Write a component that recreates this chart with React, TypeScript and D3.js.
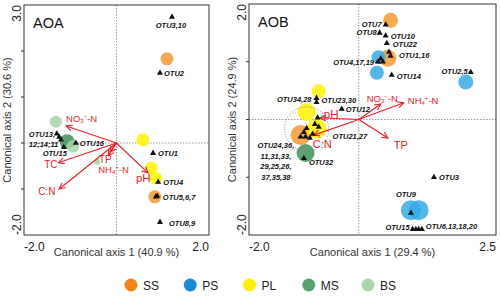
import React from 'react';
import * as d3 from 'd3';

// sample groups and colours
const groups = ['SS', 'PS', 'PL', 'MS', 'BS'];
const legendColor: Record<string, string> = {
  SS: '#f08519', PS: '#1a8ad4', PL: '#fff100', MS: '#5aa36e', BS: '#a8d8aa',
};
const pointColor: Record<string, string> = {
  SS: '#f39a33', PS: '#35aae6', PL: '#fff200', MS: '#418f58', BS: '#a2d5a5',
};

// AOA sites (x, y on canonical axes, w = relative size)
const aoaSites = [
  { g: 'SS', x: 1.09, y: 1.83, w: 42 },
  { g: 'SS', x: 0.83, y: -1.17, w: 42 },
  { g: 'PL', x: 0.57, y: 0.07, w: 42 },
  { g: 'PL', x: 0.75, y: -0.54, w: 40 },
  { g: 'PL', x: 0.85, y: -0.76, w: 40 },
  { g: 'BS', x: -1.31, y: 0.46, w: 36 },
  { g: 'MS', x: -1.07, y: 0.03, w: 56 },
  { g: 'BS', x: -0.94, y: -0.07, w: 40 },
  { g: 'BS', x: -0.42, y: -0.41, w: 9 },
];
const aoaOtus = [
  { name: ['OTU3,10'], pts: [[1.2, 2.74]] },
  { name: ['OTU2'], pts: [[0.94, 1.52]] },
  { name: ['OTU1'], pts: [[0.79, -0.22]] },
  { name: ['OTU4'], pts: [[0.9, -0.85]] },
  { name: ['OTU5,6,7'], pts: [[0.85, -1.17], [0.88, -1.15]] },
  { name: ['OTU8,9'], pts: [[0.94, -1.72]] },
  { name: ['OTU16'], pts: [[-0.88, 0.0]] },
  { name: ['OTU15'], pts: [[-1.14, -0.09]] },
  { name: ['OTU13,', '12;14;11'], pts: [[-1.29, 0.2], [-1.24, 0.13], [-1.2, 0.07]] },
];
const aoaArrows = [
  { name: 'NO3', x: -1.09, y: 0.37 },
  { name: 'TC', x: -1.26, y: -0.43 },
  { name: 'C:N', x: -1.24, y: -1.0 },
  { name: 'TP', x: -0.14, y: -0.2 },
  { name: 'NH4', x: -0.18, y: -0.28 },
  { name: 'pH', x: 0.68, y: -0.65 },
];

// AOB sites
const aobSites = [
  { g: 'SS', x: 0.58, y: 1.72, w: 56 },
  { g: 'SS', x: 0.53, y: 1.06, w: 72 },
  { g: 'PS', x: 0.36, y: 1.08, w: 49 },
  { g: 'PS', x: 0.33, y: 0.81, w: 49 },
  { g: 'PS', x: 1.95, y: 0.65, w: 56 },
  { g: 'PL', x: -0.73, y: 0.49, w: 49 },
  { g: 'PL', x: -0.95, y: 0.13, w: 81 },
  { g: 'SS', x: -1.06, y: -0.27, w: 100 },
  { g: 'PL', x: -0.77, y: -0.16, w: 100 },
  { g: 'MS', x: -0.97, y: -0.58, w: 81 },
  { g: 'PS', x: 0.95, y: -1.57, w: 100 },
  { g: 'PS', x: 1.09, y: -1.57, w: 100 },
];
const aobOtus = [
  { name: ['OTU7'], pts: [[0.49, 1.64]] },
  { name: ['OTU8'], pts: [[0.38, 1.5]] },
  { name: ['OTU10'], pts: [[0.49, 1.45]] },
  { name: ['OTU22'], pts: [[0.51, 1.32]] },
  { name: ['OTU1,16'], pts: [[0.55, 1.17], [0.58, 1.1]] },
  { name: ['OTU4,17,19'], pts: [[0.35, 1.0], [0.44, 1.0], [0.4, 1.05]] },
  { name: ['OTU14'], pts: [[0.6, 0.77]] },
  { name: ['OTU2,5'], pts: [[2.04, 0.82]] },
  { name: ['OTU34,28'], pts: [[-0.77, 0.37]] },
  { name: ['OTU23,30'], pts: [[-0.77, 0.3]] },
  { name: ['OTU12'], pts: [[-0.31, 0.18]] },
  { name: ['OTU21,27'], pts: [[-0.75, 0.03], [-0.73, -0.13]] },
  {
    name: ['OTU24,36,', '11,31,33,', '29,25,26,', '37,35,38'],
    pts: [[-1.0, -0.22], [-0.95, -0.15], [-1.06, -0.3], [-0.97, -0.3], [-0.89, -0.32], [-0.84, -0.25], [-0.8, -0.08]],
  },
  { name: ['OTU32'], pts: [[-1.0, -0.67]] },
  { name: ['OTU3'], pts: [[1.37, -1.0]] },
  { name: ['OTU9'], pts: [[0.95, -1.62]] },
  { name: ['OTU15'], pts: [[0.98, -1.9]] },
  { name: ['OTU6,13,18,20'], pts: [[1.04, -1.9], [1.09, -1.9], [1.15, -1.9]] },
];
const aobArrows = [
  { name: 'pH', x: -0.71, y: 0.03 },
  { name: 'C:N', x: -0.82, y: -0.27 },
  { name: 'NO3', x: 0.4, y: 0.27 },
  { name: 'NH4', x: 0.82, y: 0.29 },
  { name: 'TP', x: 0.53, y: -0.32 },
];

// label placement: [anchor, dx, dy] relative to the first point
const aoaOtuPos: Record<string, [string, number, number]> = {
  'OTU3,10': ['middle', -1, 11], OTU2: ['start', 4, 3], OTU1: ['start', 5, 3],
  OTU4: ['start', 5, 3], 'OTU5,6,7': ['start', 7, 3], 'OTU8,9': ['start', 9, 4],
  OTU16: ['start', 4, 3], OTU15: ['middle', -9, 9], 'OTU13,': ['start', -28, 3],
};
const aobOtuPos: Record<string, [string, number, number]> = {
  OTU7: ['end', -4, 2], OTU8: ['end', -3, 2], OTU10: ['start', 5, 3], OTU22: ['start', 6, 4],
  'OTU1,16': ['start', 10, 6], 'OTU4,17,19': ['end', -4, 3], OTU14: ['start', 5, 4],
  'OTU2,5': ['end', -3, 2], 'OTU34,28': ['end', -5, 4], 'OTU23,30': ['start', 5, 1],
  OTU12: ['start', 4, 3], 'OTU21,27': ['start', 15, 21], 'OTU24,36,': ['middle', -28, 16],
  OTU32: ['start', 5, 7], OTU3: ['start', 5, 3], OTU9: ['middle', -5, -16],
  OTU15: ['end', -3, 1], 'OTU6,13,18,20': ['start', 10, 0],
};
const aoaArrowPos: Record<string, [number, number]> = {
  NO3: [0, -4], TC: [-14, 5], 'C:N': [-21, 6], TP: [-11, 11], NH4: [-10, 17], pH: [-12, 9],
};
const aobArrowPos: Record<string, [number, number]> = {
  pH: [4, 0], 'C:N': [-1, 13], NO3: [-14, -2], NH4: [4, 1], TP: [6, 11],
};

const RED = '#e4232b';
const FONT = 'Liberation Sans, Arial, sans-serif';

const ArrowLabel = ({ name, x, y, small }: { name: string; x: number; y: number; small?: boolean }) => {
  const fs = name === 'pH' ? 11.5 : name === 'NO3' || name === 'NH4' ? 9.5 : small ? 10 : 11;
  if (name === 'NO3' || name === 'NH4') {
    return (
      <text x={x} y={y} fill={RED} fontSize={fs} fontFamily={FONT}>
        {name === 'NO3' ? 'NO' : 'NH'}
        <tspan fontSize={6} dy={1.5}>{name === 'NO3' ? '3' : '4'}</tspan>
        <tspan fontSize={6} dy={-5}>{name === 'NO3' ? '−' : '+'}</tspan>
        <tspan dy={3.5}>-N</tspan>
      </text>
    );
  }
  return (
    <text x={x} y={y} fill={RED} fontSize={fs} fontFamily={FONT}>{name}</text>
  );
};

const Panel = (props: any) => {
  const { title, xDom, yDom, box, sites, otus, arrows, otuPos, arrowPos, xTitle, yTitle, xLabels, yLabels, yTicks, id, halo, small } = props;
  const x = d3.scaleLinear().domain(xDom).range([box[0], box[2]]);
  const y = d3.scaleLinear().domain(yDom).range([box[3], box[1]]);
  const r = d3.scaleSqrt().domain([0, 100]).range([0, 10]);
  const tri = d3.symbol().type(d3.symbolTriangle).size(16)();
  const midY = (box[1] + box[3]) / 2;
  return (
    <g>
      <defs>
        <marker id={id} viewBox="0 0 8 8" refX="7" refY="4" markerWidth="7" markerHeight="7" markerUnits="userSpaceOnUse" orient="auto">
          <path d="M0,0.5 L7,4 L0,7.5" fill="none" stroke={RED} strokeWidth={1.3} />
        </marker>
      </defs>
      <line x1={x(0)} x2={x(0)} y1={box[1]} y2={box[3]} stroke="#999" strokeDasharray="1.5,1.5" />
      <line x1={box[0]} x2={box[2]} y1={y(0)} y2={y(0)} stroke="#999" strokeDasharray="1.5,1.5" />
      {sites.map((s: any, i: number) => (
        <circle key={i} cx={x(s.x)} cy={y(s.y)} r={r(s.w)} fill={pointColor[s.g]} fillOpacity={0.85} />
      ))}
      {halo && (
        <circle cx={x(halo.x)} cy={y(halo.y)} r={22} fill="none" stroke="#888" strokeDasharray="1,1.5" />
      )}
      {arrows.map((a: any) => (
        <line key={a.name} x1={x(0)} y1={y(0)} x2={x(a.x)} y2={y(a.y)} stroke={RED} strokeWidth={1.2} markerEnd={`url(#${id})`} />
      ))}
      {arrows.map((a: any) => (
        <ArrowLabel key={a.name} name={a.name} small={small} x={x(a.x) + arrowPos[a.name][0]} y={y(a.y) + arrowPos[a.name][1]} />
      ))}
      {otus.map((o: any, i: number) => {
        const p = otuPos[o.name[0]];
        const px = x(o.pts[0][0]);
        const py = y(o.pts[0][1]);
        return (
          <g key={i}>
            {o.pts.map((q: number[], j: number) => (
              <path key={j} d={tri} transform={`translate(${x(q[0])},${y(q[1])})`} fill="#111" />
            ))}
            {o.name.map((n: string, k: number) => (
              <text key={k} x={px + p[1]} y={py + p[2] + k * 10.5} textAnchor={p[0]} fontSize={7.5}
                fontWeight="bold" fontStyle="italic" fontFamily={FONT} fill="#111">{n}</text>
            ))}
          </g>
        );
      })}
      <rect x={box[0]} y={box[1]} width={box[2] - box[0]} height={box[3] - box[1]} fill="none" stroke="#333" strokeWidth={1} />
      {yTicks.map((t: number) => (
        <line key={t} x1={box[0] - 3} x2={box[0]} y1={y(t)} y2={y(t)} stroke="#333" />
      ))}
      <text x={box[0]} y={251} fontSize={12} fontFamily={FONT} fill="#222">{xLabels[0]}</text>
      <text x={box[2]} y={251} fontSize={12} fontFamily={FONT} fill="#222" textAnchor="end">{xLabels[1]}</text>
      <text transform={`translate(${box[0] - 3},${box[1]}) rotate(-90)`} fontSize={12} fontFamily={FONT} fill="#222" textAnchor="end">{yLabels[1]}</text>
      <text transform={`translate(${box[0] - 3},${box[3]}) rotate(-90)`} fontSize={12} fontFamily={FONT} fill="#222" textAnchor="start">{yLabels[0]}</text>
      <text x={(box[0] + box[2]) / 2} y={256} fontSize={11} fontFamily={FONT} fill="#333" textAnchor="middle">{xTitle}</text>
      <text transform={`translate(${box[0] - 13},${midY}) rotate(-90)`} fontSize={11} fontFamily={FONT} fill="#333" textAnchor="middle">{yTitle}</text>
      <text x={box[0] + 9} y={box[1] + 23} fontSize={14.5} fontFamily={FONT} fill="#111">{title}</text>
    </g>
  );
};

const App = () => {
  const lx = d3.scalePoint().domain(groups).range([131, 368]);
  return (
    <svg width={500} height={297} style={{ position: 'absolute', left: 0, top: 0, background: '#fff' }}>
      <Panel id="arrA" title="AOA" xDom={[-2, 2]} yDom={[-2, 3]} box={[24, 5, 209, 235]} small
        sites={aoaSites} otus={aoaOtus} arrows={aoaArrows} otuPos={aoaOtuPos} arrowPos={aoaArrowPos}
        xTitle="Canonical axis 1 (40.9 %)" yTitle="Canonical axis 2 (30.6 %)"
        xLabels={['-2.0', '2.0']} yLabels={['-2.0', '3.0']} yTicks={[-1, 0, 1, 2]} />
      <Panel id="arrB" title="AOB" xDom={[-2, 2.5]} yDom={[-2, 2]} box={[249, 4, 496, 235]}
        sites={aobSites} otus={aobOtus} arrows={aobArrows} otuPos={aobOtuPos} arrowPos={aobArrowPos}
        xTitle="Canonical axis 1 (29.4 %)" yTitle="Canonical axis 2 (24.9 %)"
        xLabels={['-2.0', '2.5']} yLabels={['-2.0', '2.0']} yTicks={[-1, 0, 1]}
        halo={{ x: -0.95, y: -0.16 }} />
      {groups.map((g) => (
        <g key={g}>
          <circle cx={lx(g)} cy={285} r={6.5} fill={legendColor[g]} />
          <text x={(lx(g) as number) + 12} y={289.5} fontSize={12} fontFamily={FONT} fill="#222">{g}</text>
        </g>
      ))}
    </svg>
  );
};

export default App;
